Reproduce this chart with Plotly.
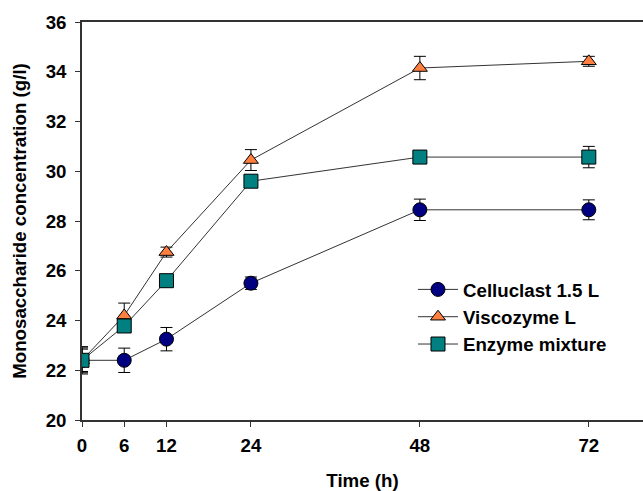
import plotly.graph_objects as go

time_h = [0, 6, 12, 24, 48, 72]
x_ticks = [0, 6, 12, 24, 48, 72]
y_ticks = [20, 22, 24, 26, 28, 30, 32, 34, 36]

celluclast = [22.4, 22.4, 23.25, 25.5, 28.45, 28.45]
celluclast_err = [0.5, 0.49, 0.47, 0.25, 0.43, 0.4]

viscozyme = [22.4, 24.2, 26.75, 30.45, 34.15, 34.42]
viscozyme_err = [0.45, 0.5, 0.2, 0.42, 0.47, 0.2]

mixture = [22.4, 23.78, 25.6, 29.6, 30.57, 30.57]
mixture_err = [0.55, 0.2, 0.2, 0.2, 0.2, 0.43]

names = ["Celluclast 1.5 L", "Viscozyme L", "Enzyme mixture"]
colors = ["#000080", "#FF7F3F", "#008080"]
symbols = ["circle", "triangle-up", "square"]
sizes = [14, 13, 14]
series = [celluclast, viscozyme, mixture]
errors = [celluclast_err, viscozyme_err, mixture_err]

font_family = "Arial, 'Liberation Sans', sans-serif"
FS = 18.7

fig = go.Figure()
for name, ys, err, col, sym, sz in zip(names, series, errors, colors, symbols, sizes):
    fig.add_trace(go.Scatter(
        x=time_h, y=ys, name=name, mode="lines+markers",
        line=dict(color="#333333", width=1),
        marker=dict(symbol=sym, size=sz, color=col,
                    line=dict(color="#000000", width=1)),
        error_y=dict(type="data", array=err, visible=True, color="#000000",
                     thickness=1, width=6),
    ))

fig.update_layout(
    width=643, height=491,
    margin=dict(l=82, r=0, t=22, b=71),
    plot_bgcolor="white", paper_bgcolor="white",
    font=dict(family=font_family, size=FS, color="#000000"),
    showlegend=True,
    legend=dict(x=0.59, y=0.375, xanchor="left", yanchor="top",
                bgcolor="rgba(0,0,0,0)",
                font=dict(family=font_family, size=FS, color="#000000", weight="bold"),
                itemwidth=40, tracegroupgap=0),
    xaxis=dict(range=[0, 79.7], tickvals=x_ticks, ticktext=[str(t) for t in x_ticks],
               showgrid=False, zeroline=False, showline=True, linecolor="#333333",
               linewidth=1.5, mirror=True, ticks="outside", ticklen=5, tickcolor="#333333",
               automargin=False, ticklabelstandoff=3,
               tickfont=dict(family=font_family, size=FS, weight="bold"),
               title=dict(text="<b>Time (h)</b>", font=dict(family=font_family, size=FS),
                          standoff=20)),
    yaxis=dict(range=[20, 36], tickvals=y_ticks,
               showgrid=False, zeroline=False, showline=True, linecolor="#333333",
               linewidth=1.5, ticks="outside", ticklen=5, tickcolor="#333333",
               automargin=False, ticklabelstandoff=5,
               tickfont=dict(family=font_family, size=FS, weight="bold"),
               title=dict(text="<b>Monosaccharide concentration (g/l)</b>",
                          font=dict(family=font_family, size=FS), standoff=14)),
)

fig.write_html("out.html", config={"displayModeBar": False},
               post_script="document.body.style.margin='0px';")
